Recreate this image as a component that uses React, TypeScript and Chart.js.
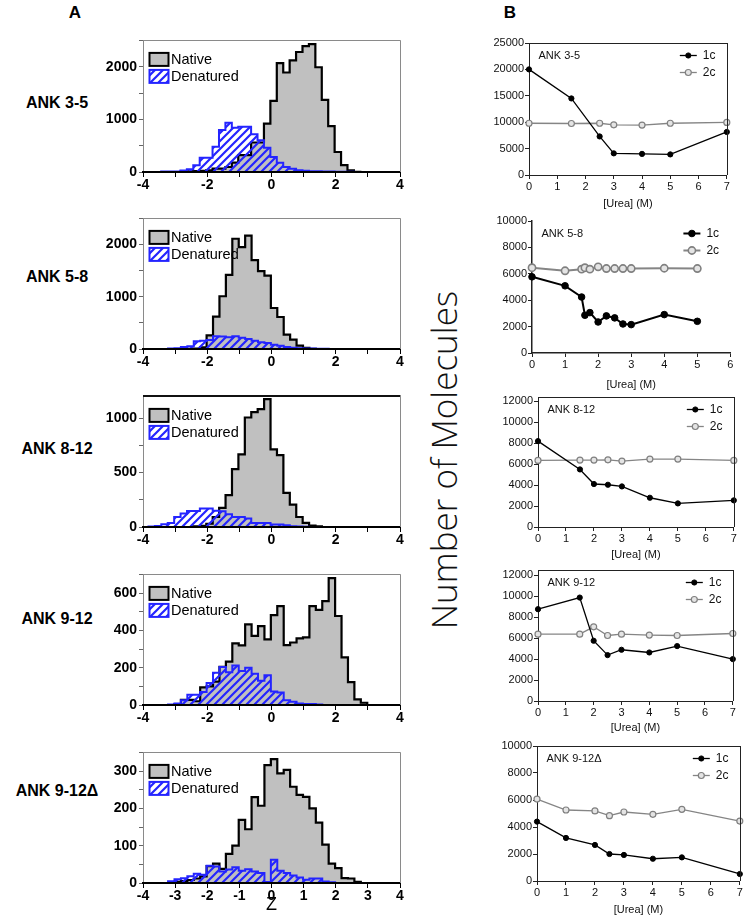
import React, { useEffect, useRef } from "react";
import { Chart, registerables } from "chart.js";

Chart.register(...registerables);

const FONT = "'Liberation Sans', Arial, Helvetica, sans-serif";
const BLUE = "#2424ff";
const NATIVE_FILL = "#c0c0c0";

// ================= Panel A: counts per Z bin (bin width 0.2) =================
const BIN_WIDTH = 0.2;

const ank35ZStart = -3.435;
const ank35Native = [0, 0, 0, 5, 10, 15, 20, 30, 65, 65, 95, 178, 320, 320, 560, 560, 920, 1350, 2070, 1890, 2120, 2280, 2390, 2430, 1990, 1370, 870, 380, 130, 30, 5];
const ank35Denatured = [10, 10, 10, 30, 50, 130, 270, 270, 480, 800, 935, 840, 860, 860, 715, 605, 460, 287, 178, 95, 64, 32, 25, 13, 13, 10, 8, 5, 5, 3, 0];

const ank58ZStart = -3.62;
const ank58Native = [0, 0, 0, 0, 2, 5, 10, 30, 262, 620, 1010, 1420, 2110, 1950, 2170, 1700, 1490, 1405, 785, 613, 275, 180, 64, 20, 5];
const ank58Denatured = [0, 0, 10, 15, 40, 55, 150, 160, 170, 243, 240, 225, 243, 215, 190, 160, 130, 115, 80, 60, 40, 25, 15, 10, 8, 5, 3];

const ank812ZStart = -3.83;
const ank812Native = [0, 0, 0, 0, 0, 0, 0, 5, 10, 30, 92, 175, 292, 532, 668, 1006, 1055, 1083, 1175, 714, 660, 314, 206, 92, 37, 12, 5];
const ank812Denatured = [5, 10, 25, 37, 92, 123, 148, 148, 170, 170, 150, 145, 117, 92, 92, 77, 37, 37, 37, 22, 22, 15, 8, 5, 3];

const ank912ZStart = -3.22;
const ank912Native = [0, 5, 27, 27, 20, 95, 100, 125, 205, 232, 330, 320, 432, 370, 423, 352, 482, 530, 321, 335, 357, 362, 530, 510, 557, 680, 477, 255, 123, 30, 12];
const ank912Denatured = [3, 8, 25, 55, 55, 70, 118, 173, 204, 176, 212, 182, 200, 167, 130, 160, 73, 67, 25, 18, 8, 5, 5, 3];

const ank912dZStart = -3.22;
const ank912dNative = [0, 3, 5, 8, 12, 18, 45, 52, 38, 78, 100, 169, 144, 230, 207, 316, 332, 294, 303, 258, 236, 231, 200, 162, 103, 52, 40, 13, 12, 3];
const ank912dDenatured = [5, 10, 13, 18, 25, 22, 46, 44, 31, 36, 42, 33, 37, 31, 27, 3, 62, 33, 27, 20, 15, 9, 12, 12, 4, 2];

// ================= Panel B: number of molecules vs [Urea] =================
const ank35Urea = [0, 1.5, 2.5, 3, 4, 5, 7];
const ank35C1 = [20000, 14500, 7300, 4100, 4000, 3900, 8150];
const ank35C2 = [9800, 9750, 9800, 9500, 9450, 9800, 9950];

const ank58Urea = [0, 1, 1.5, 1.6, 1.75, 2, 2.25, 2.5, 2.75, 3, 4, 5];
const ank58C1 = [5770, 5090, 4240, 2860, 3060, 2350, 2810, 2660, 2200, 2150, 2910, 2400];
const ank58C2 = [6460, 6230, 6350, 6460, 6350, 6530, 6400, 6400, 6400, 6400, 6420, 6400];

const ank812Urea = [0, 1.5, 2, 2.5, 3, 4, 5, 7];
const ank812C1 = [8190, 5490, 4100, 4030, 3870, 2790, 2250, 2540];
const ank812C2 = [6350, 6380, 6380, 6410, 6290, 6480, 6480, 6350];

const ank912Urea = [0, 1.5, 2, 2.5, 3, 4, 5, 7];
const ank912C1 = [8760, 9870, 5750, 4380, 4890, 4630, 5240, 4000];
const ank912C2 = [6380, 6380, 7080, 6250, 6380, 6290, 6250, 6440];

const ank912dUrea = [0, 1, 2, 2.5, 3, 4, 5, 7];
const ank912dC1 = [4400, 3190, 2670, 2000, 1930, 1650, 1750, 520];
const ank912dC2 = [6070, 5260, 5190, 4840, 5110, 4940, 5310, 4440];

const HIST_PANELS = [
  { name: "ANK 3-5", start: ank35ZStart, native: ank35Native, denatured: ank35Denatured, yMax: 2500, yMinor: 500, yMajor: 1000 },
  { name: "ANK 5-8", start: ank58ZStart, native: ank58Native, denatured: ank58Denatured, yMax: 2500, yMinor: 500, yMajor: 1000 },
  { name: "ANK 8-12", start: ank812ZStart, native: ank812Native, denatured: ank812Denatured, yMax: 1200, yMinor: 250, yMajor: 500 },
  { name: "ANK 9-12", start: ank912ZStart, native: ank912Native, denatured: ank912Denatured, yMax: 700, yMinor: 100, yMajor: 200 },
  { name: "ANK 9-12\u0394", start: ank912dZStart, native: ank912dNative, denatured: ank912dDenatured, yMax: 350, yMinor: 50, yMajor: 100 },
];

const UREA_PANELS = [
  { name: "ANK 3-5", urea: ank35Urea, c1: ank35C1, c2: ank35C2, xMax: 7, yMax: 25000, yStep: 5000 },
  { name: "ANK 5-8", urea: ank58Urea, c1: ank58C1, c2: ank58C2, xMax: 6, yMax: 10000, yStep: 2000 },
  { name: "ANK 8-12", urea: ank812Urea, c1: ank812C1, c2: ank812C2, xMax: 7, yMax: 12400, yStep: 2000 },
  { name: "ANK 9-12", urea: ank912Urea, c1: ank912C1, c2: ank912C2, xMax: 7, yMax: 12500, yStep: 2000 },
  { name: "ANK 9-12\u0394", urea: ank912dUrea, c1: ank912dC1, c2: ank912dC2, xMax: 7, yMax: 10000, yStep: 2000 },
];

// ================= layout (page pixels of each plot area) =================
const HIST_BOXES = [
  { L: 143, R: 400, T: 40, B: 172, xh: 26, labelY: 103, topColor: "#8a8a8a", topW: 1, allX: false },
  { L: 143, R: 400, T: 218, B: 349, xh: 26, labelY: 277, topColor: "#8a8a8a", topW: 1, allX: false },
  { L: 143, R: 400, T: 396, B: 527, xh: 26, labelY: 449, topColor: "#111", topW: 2, allX: false },
  { L: 143, R: 400, T: 574, B: 705, xh: 26, labelY: 619, topColor: "#8a8a8a", topW: 1, allX: false },
  { L: 143, R: 400, T: 752, B: 883, xh: 33, labelY: 791, topColor: "#8a8a8a", topW: 1, allX: true },
];

const UREA_BOXES = [
  { L: 529, R: 728, T: 43, B: 175, xh: 36, frame: true, bold: false },
  { L: 532, R: 732, T: 221, B: 353, xh: 39, frame: false, bold: true },
  { L: 538, R: 735, T: 397, B: 527, xh: 35, frame: true, bold: false },
  { L: 538, R: 734, T: 570, B: 701, xh: 34, frame: true, bold: false },
  { L: 537, R: 741, T: 746, B: 881, xh: 36, frame: true, bold: false },
];

function histOutline(start: number, w: number, vals: number[]) {
  const pts: { x: number; y: number }[] = [{ x: start, y: 0 }];
  vals.forEach((v, i) => {
    pts.push({ x: start + i * w, y: v }, { x: start + (i + 1) * w, y: v });
  });
  pts.push({ x: start + vals.length * w, y: 0 });
  return pts;
}

function tickValues(max: number, step: number) {
  const t: { value: number }[] = [];
  for (let k = 0; k * step <= max + 1e-9; k++) t.push({ value: k * step });
  return t;
}

function makeHatch(): any {
  const c = document.createElement("canvas");
  const s = 8;
  c.width = s;
  c.height = s;
  const g = c.getContext("2d")!;
  g.strokeStyle = BLUE;
  g.lineWidth = 2.2;
  g.beginPath();
  g.moveTo(0, s);
  g.lineTo(s, 0);
  g.moveTo(-2, 2);
  g.lineTo(2, -2);
  g.moveTo(s - 2, s + 2);
  g.lineTo(s + 2, s - 2);
  g.stroke();
  return g.createPattern(c, "repeat");
}

const framePlugin = {
  id: "frame",
  afterDraw(chart: any, _a: any, o: any) {
    if (!o || !o.show) return;
    const { left, right, top, bottom } = chart.chartArea;
    const ctx = chart.ctx;
    ctx.save();
    ctx.strokeStyle = o.topColor;
    ctx.lineWidth = o.topW;
    const off = o.topW % 2 === 1 ? 0.5 : 0;
    ctx.beginPath();
    ctx.moveTo(left, Math.round(top) + off);
    ctx.lineTo(right + 0.5, Math.round(top) + off);
    ctx.stroke();
    ctx.strokeStyle = o.rightColor;
    ctx.lineWidth = 1;
    ctx.beginPath();
    ctx.moveTo(Math.round(right) + 0.5, top);
    ctx.lineTo(Math.round(right) + 0.5, bottom);
    ctx.stroke();
    ctx.restore();
  },
};

const histLegendPlugin = {
  id: "histLegend",
  afterDraw(chart: any) {
    const { left, top } = chart.chartArea;
    const ctx = chart.ctx;
    const dsDen = chart.data.datasets[0];
    const dsNat = chart.data.datasets[1];
    const bx = left + 6.5;
    const rows = [
      { ds: dsNat, y: top + 12.5 },
      { ds: dsDen, y: top + 29.5 },
    ];
    ctx.save();
    rows.forEach((r) => {
      ctx.fillStyle = r.ds.backgroundColor;
      ctx.fillRect(bx, r.y, 19, 13);
      ctx.strokeStyle = r.ds.borderColor;
      ctx.lineWidth = 2;
      ctx.strokeRect(bx, r.y, 19, 13);
      ctx.fillStyle = "#000";
      ctx.font = `14.5px ${FONT}`;
      ctx.textBaseline = "middle";
      ctx.textAlign = "left";
      ctx.fillText(r.ds.label, left + 28, r.y + 7);
    });
    ctx.restore();
  },
};

const ureaLegendPlugin = {
  id: "ureaLegend",
  afterDraw(chart: any, _a: any, o: any) {
    const { left, top, right } = chart.chartArea;
    const ctx = chart.ctx;
    ctx.save();
    ctx.font = `11px ${FONT}`;
    ctx.fillStyle = "#111";
    ctx.textBaseline = "middle";
    ctx.textAlign = "left";
    ctx.fillText(o.name, left + 9.5, top + 12.5);
    chart.data.datasets.forEach((ds: any, i: number) => {
      const y = Math.round(top + 12 + i * 16.5) + 0.5;
      const x1 = right - 47;
      const x2 = right - 30;
      const cx = (x1 + x2) / 2;
      ctx.strokeStyle = ds.borderColor;
      ctx.lineWidth = ds.borderWidth;
      ctx.beginPath();
      ctx.moveTo(x1, y);
      ctx.lineTo(x2, y);
      ctx.stroke();
      ctx.beginPath();
      ctx.arc(cx, y, ds.pointRadius, 0, Math.PI * 2);
      ctx.fillStyle = ds.pointBackgroundColor;
      ctx.fill();
      ctx.lineWidth = ds.pointBorderWidth;
      ctx.strokeStyle = ds.pointBorderColor;
      ctx.stroke();
      ctx.fillStyle = "#111";
      ctx.font = `12px ${FONT}`;
      ctx.fillText(ds.label, right - 24, y);
    });
    ctx.restore();
  },
};

function histConfig(p: any, box: any, dims: any) {
  const tickFont = { family: FONT, size: 14, weight: "bold" as const };
  return {
    type: "line",
    data: {
      datasets: [
        {
          label: "Denatured",
          data: histOutline(p.start, BIN_WIDTH, p.denatured),
          borderColor: BLUE,
          borderWidth: 2,
          backgroundColor: makeHatch(),
          fill: "origin",
          pointRadius: 0,
          tension: 0,
          clip: false,
          borderJoinStyle: "miter",
        },
        {
          label: "Native",
          data: histOutline(p.start, BIN_WIDTH, p.native),
          borderColor: "#000",
          borderWidth: 2.2,
          backgroundColor: NATIVE_FILL,
          fill: "origin",
          pointRadius: 0,
          tension: 0,
          clip: false,
          borderJoinStyle: "miter",
        },
      ],
    },
    options: {
      animation: false,
      responsive: false,
      devicePixelRatio: 1,
      events: [],
      layout: { padding: { top: dims.pt, right: dims.pr, left: 0, bottom: 0 } },
      plugins: {
        legend: { display: false },
        tooltip: { enabled: false },
        frame: { show: true, topColor: box.topColor, topW: box.topW, rightColor: "#8a8a8a" },
      },
      scales: {
        x: {
          type: "linear",
          min: -4,
          max: 4,
          ticks: {
            stepSize: 1,
            autoSkip: false,
            maxRotation: 0,
            padding: 0,
            color: "#000",
            font: tickFont,
            callback: (v: any) => (box.allX || v % 2 === 0 ? String(v) : ""),
          },
          grid: { drawOnChartArea: false, drawTicks: true, tickLength: 5, color: "#000", lineWidth: 1 },
          border: { color: "#000", width: 2, z: 1 },
          title: box.allX
            ? { display: true, text: "Z", color: "#000", font: { family: FONT, size: 18 }, padding: 0 }
            : { display: false },
          afterFit: (s: any) => {
            s.height = dims.xh;
          },
        },
        y: {
          min: 0,
          max: p.yMax,
          ticks: {
            autoSkip: false,
            padding: 2,
            color: "#000",
            font: tickFont,
            callback: (v: any) => (v % p.yMajor === 0 ? String(v) : ""),
          },
          afterBuildTicks: (s: any) => {
            s.ticks = tickValues(p.yMax, p.yMinor);
          },
          grid: { drawOnChartArea: false, drawTicks: true, tickLength: 4, color: "#666" },
          border: { color: "#8a8a8a", width: 1 },
          afterFit: (s: any) => {
            s.width = dims.yw;
          },
        },
      },
    },
    plugins: [framePlugin, histLegendPlugin],
  };
}

function ureaConfig(p: any, box: any, dims: any) {
  const thick = box.bold;
  const tickFont = { family: FONT, size: 11 };
  return {
    type: "line",
    data: {
      datasets: [
        {
          label: "1c",
          data: p.urea.map((x: number, i: number) => ({ x, y: p.c1[i] })),
          borderColor: "#000",
          backgroundColor: "#000",
          pointBackgroundColor: "#000",
          pointBorderColor: "#000",
          borderWidth: thick ? 2 : 1.3,
          pointRadius: thick ? 3.3 : 2.6,
          pointBorderWidth: 1,
          tension: 0,
          fill: false,
          clip: false,
        },
        {
          label: "2c",
          data: p.urea.map((x: number, i: number) => ({ x, y: p.c2[i] })),
          borderColor: "#858585",
          backgroundColor: "#858585",
          pointBackgroundColor: "#e4e4e4",
          pointBorderColor: "#808080",
          borderWidth: thick ? 2 : 1.3,
          pointRadius: thick ? 3.6 : 3,
          pointBorderWidth: thick ? 1.6 : 1.2,
          tension: 0,
          fill: false,
          clip: false,
        },
      ],
    },
    options: {
      animation: false,
      responsive: false,
      devicePixelRatio: 1,
      events: [],
      layout: { padding: { top: dims.pt, right: dims.pr, left: 0, bottom: 0 } },
      plugins: {
        legend: { display: false },
        tooltip: { enabled: false },
        frame: { show: box.frame, topColor: "#222", topW: 1, rightColor: "#222" },
        ureaLegend: { name: p.name },
      },
      scales: {
        x: {
          type: "linear",
          min: 0,
          max: p.xMax,
          ticks: { stepSize: 1, autoSkip: false, maxRotation: 0, padding: 1, color: "#111", font: tickFont },
          grid: { drawOnChartArea: false, drawTicks: true, tickLength: 4, color: "#222" },
          border: { color: "#222", width: thick ? 1.5 : 1 },
          title: { display: true, text: "[Urea] (M)", color: "#111", font: { family: FONT, size: 11 }, padding: 0 },
          afterFit: (s: any) => {
            s.height = dims.xh;
          },
        },
        y: {
          min: 0,
          max: p.yMax,
          ticks: {
            autoSkip: false,
            padding: 1,
            color: "#111",
            font: tickFont,
            callback: (v: any) => String(v),
          },
          afterBuildTicks: (s: any) => {
            s.ticks = tickValues(p.yMax, p.yStep);
          },
          grid: { drawOnChartArea: false, drawTicks: true, tickLength: 4, color: "#222" },
          border: { color: "#222", width: thick ? 1.5 : 1 },
          afterFit: (s: any) => {
            s.width = dims.yw;
          },
        },
      },
    },
    plugins: [framePlugin, ureaLegendPlugin],
  };
}

function ChartBox(props: any) {
  const { L, R, T, B, yw, pt, pr, xh, build } = props;
  const ref = useRef<HTMLCanvasElement | null>(null);
  const w = R - L + yw + pr;
  const h = B - T + pt + xh;
  useEffect(() => {
    const chart = new Chart(ref.current as any, build({ yw, pt, pr, xh }) as any);
    return () => chart.destroy();
  }, []);
  return (
    <canvas
      ref={ref}
      width={w}
      height={h}
      style={{ position: "absolute", left: L - yw, top: T - pt, width: w, height: h, display: "block" }}
    />
  );
}

function Txt(props: any) {
  const { x, y, children, style } = props;
  return (
    <div
      style={{
        position: "absolute",
        left: x,
        top: y,
        transform: "translate(-50%, -50%)",
        whiteSpace: "nowrap",
        lineHeight: 1,
        fontFamily: FONT,
        color: "#000",
        ...style,
      }}
    >
      {children}
    </div>
  );
}

export default function App() {
  return (
    <div style={{ position: "absolute", left: 0, top: 0, width: 745, height: 919, background: "#fff", overflow: "hidden" }}>
      <Txt x={75} y={12} style={{ fontWeight: "bold", fontSize: 17 }}>A</Txt>
      <Txt x={510} y={12} style={{ fontWeight: "bold", fontSize: 17 }}>B</Txt>
      {HIST_PANELS.map((p, i) => (
        <Txt key={"lab" + i} x={57} y={HIST_BOXES[i].labelY} style={{ fontWeight: "bold", fontSize: 16 }}>
          {p.name}
        </Txt>
      ))}
      {HIST_PANELS.map((p, i) => {
        const b = HIST_BOXES[i];
        return (
          <ChartBox
            key={"h" + i}
            L={b.L}
            R={b.R}
            T={b.T}
            B={b.B}
            yw={44}
            pt={10}
            pr={12}
            xh={b.xh}
            build={(dims: any) => histConfig(p, b, dims)}
          />
        );
      })}
      {UREA_PANELS.map((p, i) => {
        const b = UREA_BOXES[i];
        return (
          <ChartBox
            key={"u" + i}
            L={b.L}
            R={b.R}
            T={b.T}
            B={b.B}
            yw={40}
            pt={10}
            pr={4}
            xh={b.xh}
            build={(dims: any) => ureaConfig(p, b, dims)}
          />
        );
      })}
      <Txt
        x={443}
        y={460}
        style={{
          transform: "translate(-50%, -50%) rotate(-90deg)",
          fontFamily: "'Open Sans', 'Liberation Sans', sans-serif",
          fontWeight: 300,
          fontSize: 35,
          color: "#111",
        }}
      >
        Number of Molecules
      </Txt>
    </div>
  );
}
